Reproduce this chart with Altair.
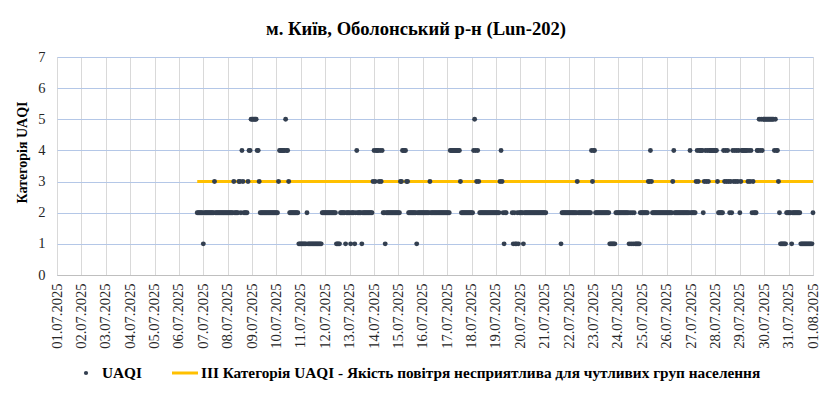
import altair as alt
import pandas as pd

# ---- data (hourly UAQI category, run-length encoded: (value, hours)) ----
series_start = "2025-07-06 18:00"
uaqi_runs = [
    (2, 6), (1, 1), (2, 10), (3, 1), (2, 18), (3, 1), (2, 4), (3, 2), (2, 1), (4, 1),
    (3, 1), (2, 4), (3, 1), (4, 2), (5, 6), (4, 2), (3, 1), (2, 18), (3, 1), (4, 6),
    (5, 1), (4, 2), (3, 1), (2, 9), (1, 8), (2, 1), (1, 14), (2, 14), (1, 4), (2, 5),
    (1, 1), (2, 4), (1, 1), (2, 3), (1, 1), (2, 1), (4, 1), (2, 4), (1, 1), (2, 10),
    (3, 1), (4, 1), (3, 1), (4, 3), (3, 1), (4, 1), (3, 1), (4, 1), (2, 2), (1, 1),
    (2, 14), (3, 2), (4, 4), (3, 2), (2, 8), (1, 1), (2, 12), (3, 1), (2, 19), (4, 10),
    (3, 1), (2, 12), (4, 1), (5, 1), (4, 1), (3, 1), (4, 1), (3, 1), (2, 20), (3, 1),
    (4, 1), (3, 1), (2, 1), (1, 1), (2, 2), (None, 5), (2, 1), (1, 1), (2, 1), (1, 2),
    (2, 1), (1, 1), (2, 4), (1, 1), (2, 22), (None, 14), (1, 1), (2, 15), (3, 1), (2, 13),
    (4, 1), (3, 1), (4, 2), (2, 14), (1, 6), (2, 13), (1, 1), (2, 1), (1, 1), (2, 1),
    (1, 1), (2, 1), (1, 5), (2, 8), (3, 2), (4, 1), (3, 1), (2, 20), (3, 1), (4, 1),
    (2, 15), (4, 1), (2, 5), (3, 1), (4, 1), (3, 1), (4, 4), (2, 1), (3, 1), (4, 1),
    (3, 1), (4, 1), (3, 1), (4, 8), (3, 1), (2, 5), (4, 1), (3, 1), (4, 1), (3, 1),
    (4, 1), (3, 1), (2, 1), (3, 1), (2, 1), (4, 1), (3, 1), (4, 1), (3, 1), (4, 1),
    (3, 1), (4, 1), (2, 1), (3, 1), (4, 6), (3, 1), (4, 1), (3, 1), (4, 1), (2, 1),
    (3, 1), (2, 3), (4, 2), (5, 1), (4, 1), (5, 1), (4, 1), (5, 11), (4, 1), (5, 1),
    (4, 2), (3, 1), (2, 1), (1, 6), (2, 5), (1, 1), (2, 8), (1, 12), (2, 1),
]
threshold_value = 3
threshold_label = "III Категорія UAQI - Якість повітря несприятлива для чутливих груп населення"
series_label = "UAQI"
title_text = "м. Київ, Оболонський р-н (Lun-202)"
y_title = "Категорія UAQI"
y_ticks = [0, 1, 2, 3, 4, 5, 6, 7]
x_tick_days = [(7, d) for d in range(1, 32)] + [(8, 1)]

# ---- build tables ----
vals = []
for v, n in uaqi_runs:
    vals.extend([v] * n)
times = pd.date_range(series_start, periods=len(vals), freq="h")
df = pd.DataFrame({"time": times.strftime("%Y-%m-%dT%H:%M:%S"), "uaqi": vals}).dropna()

thr = pd.DataFrame({
    "time": [times[0].strftime("%Y-%m-%dT%H:%M:%S"), times[-1].strftime("%Y-%m-%dT%H:%M:%S")],
    "val": [threshold_value, threshold_value],
})

FONT = "Liberation Serif"
W, H = 756, 218

x_enc = alt.X(
    "time:T",
    scale=alt.Scale(domain=[alt.DateTime(year=2025, month=7, date=1, hours=0),
                            alt.DateTime(year=2025, month=8, date=1, hours=0)], nice=False),
    axis=alt.Axis(
        title=None,
        values=[alt.DateTime(year=2025, month=m, date=d, hours=0) for m, d in x_tick_days],
        format="%d.%m.%Y",
        labelAngle=270,
        labelAlign="right",
        labelBaseline="middle",
        labelPadding=8,
        labelOverlap=False,
        labelFont=FONT,
        labelFontSize=14.5,
        labelColor="#262626",
        ticks=False,
        grid=True,
        gridColor="#d9d9d9",
        gridWidth=1,
        domainColor="#bfbfbf",
    ),
)
y_scale = alt.Scale(domain=[0, 7], nice=False)
y_axis = alt.Axis(
    title=y_title,
    values=y_ticks,
    titleFont=FONT,
    titleFontSize=14,
    titleFontWeight="bold",
    titleColor="#000000",
    titleAngle=270,
    titleX=-35,
    titleY=95,
    titleAlign="center",
    titleBaseline="middle",
    labelFont=FONT,
    labelFontSize=14.5,
    labelColor="#262626",
    labelPadding=12,
    ticks=False,
    grid=True,
    gridColor="#b4c7e7",
    gridWidth=1,
    domain=False,
)

line = alt.Chart(thr).mark_line(color="#FFC000", strokeWidth=3).encode(
    x=x_enc, y=alt.Y("val:Q", scale=y_scale, axis=y_axis)
)
points = alt.Chart(df).mark_circle(color="#333F50", size=24, opacity=1).encode(
    x=x_enc, y=alt.Y("uaqi:Q", scale=y_scale, axis=y_axis)
)

one = pd.DataFrame({"a": [0]})
title_mark = alt.Chart(one).mark_text(
    font=FONT, fontSize=18.6, fontWeight="bold", align="center", baseline="middle", color="#000"
).encode(x=alt.value(359), y=alt.value(-28), text=alt.value(title_text))

LY = 316
LFS = 15.3
leg_dot = alt.Chart(one).mark_circle(color="#333F50", size=18, opacity=1).encode(
    x=alt.value(29), y=alt.value(LY)
)
leg_t1 = alt.Chart(one).mark_text(
    font=FONT, fontSize=LFS, fontWeight="bold", align="left", baseline="middle", color="#000"
).encode(x=alt.value(45), y=alt.value(LY), text=alt.value(series_label))
leg_line = alt.Chart(one).mark_rule(color="#FFC000", strokeWidth=3).encode(
    x=alt.value(115), x2=alt.value(141), y=alt.value(LY)
)
leg_t2 = alt.Chart(one).mark_text(
    font=FONT, fontSize=LFS, fontWeight="bold", align="left", baseline="middle", color="#000"
).encode(x=alt.value(144), y=alt.value(LY), text=alt.value(threshold_label))

chart = alt.layer(line, points, title_mark, leg_dot, leg_t1, leg_line, leg_t2).properties(
    width=W,
    height=H,
    autosize=alt.AutoSizeParams(type="none"),
    padding={"left": 49, "top": 49, "right": 11, "bottom": 111},
).configure_view(stroke=None).configure(background="white")

chart.save("out.html", embed_options={"renderer": "svg", "actions": False})
